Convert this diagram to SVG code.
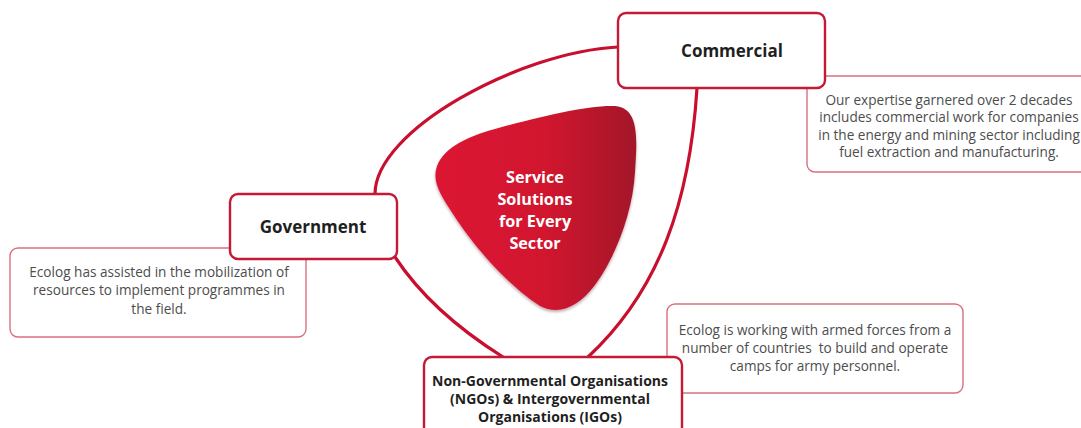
<svg xmlns="http://www.w3.org/2000/svg" width="1081" height="428" viewBox="0 0 1081 428">
  <defs>
    <linearGradient id="blobFill" x1="0" y1="0" x2="1" y2="0">
      <stop offset="0" stop-color="#dc1431"/>
      <stop offset="0.55" stop-color="#d1142f"/>
      <stop offset="1" stop-color="#a3172a"/>
    </linearGradient>
    <filter id="soft" x="-10%" y="-10%" width="120%" height="130%">
      <feDropShadow dx="0" dy="2" stdDeviation="1.5" flood-color="#5a0a14" flood-opacity="0.35"/>
    </filter>
    <style>
      .link { fill: none; stroke: #c8102e; stroke-width: 3.2; stroke-linecap: round; }
      .main { fill: #ffffff; stroke: #c41a36; stroke-width: 2.4; }
      .note { fill: #ffffff; stroke: #d9717f; stroke-width: 1.4; }
      .title { font-family: "Open Sans", "Liberation Sans", sans-serif; font-weight: 700; fill: #1f1f1f; text-anchor: middle; }
      .body { font-family: "Open Sans", "Liberation Sans", sans-serif; font-size: 13.6px; fill: #4d4d4d; text-anchor: middle; white-space: pre; }
      .hub { font-family: "Open Sans", "Liberation Sans", sans-serif; font-weight: 700; font-size: 16.2px; fill: #ffffff; text-anchor: middle; }
    </style>
  </defs>

  <rect width="1081" height="428" fill="#ffffff"/>

  <!-- loop of connectors joining the three sectors -->
  <g id="connectors">
    <path class="link" d="M618,47 C520,52 375,130 375,194"/>
    <path class="link" d="M697,88 C690,200 660,290 588,357"/>
    <path class="link" d="M395,257 C420,295 460,330 503,357"/>
  </g>

  <!-- central hub -->
  <g id="hub">
    <path d="M436,170 C440,150 465,137 495,129 C538,117 588,105 615,106 C640,108 637,140 635,172 C633,210 617,255 595,285 C579,306 560,316 540,306 C508,286 472,244 453,214 C442,197 433,184 436,170 Z" fill="url(#blobFill)" filter="url(#soft)"/>
    <text class="hub" x="535" y="183">Service</text>
    <text class="hub" x="535" y="205">Solutions</text>
    <text class="hub" x="535" y="227">for Every</text>
    <text class="hub" x="535" y="249">Sector</text>
  </g>

  <!-- Commercial -->
  <g id="commercial-note">
    <rect class="note" x="807" y="76" width="290" height="96" rx="8"/>
    <text class="body" x="949" y="105">Our expertise garnered over 2 decades</text>
    <text class="body" x="949" y="122">includes commercial work for companies</text>
    <text class="body" x="949" y="140">in the energy and mining sector including</text>
    <text class="body" x="949" y="157">fuel extraction and manufacturing.</text>
  </g>
  <g id="commercial">
    <rect class="main" x="618" y="13" width="207" height="75" rx="8"/>
    <text class="title" x="732" y="57" font-size="17">Commercial</text>
  </g>

  <!-- Government -->
  <g id="government-note">
    <rect class="note" x="10" y="248" width="296" height="89" rx="8"/>
    <text class="body" x="159" y="277">Ecolog has assisted in the mobilization of</text>
    <text class="body" x="159" y="295">resources to implement programmes in</text>
    <text class="body" x="159" y="314">the field.</text>
  </g>
  <g id="government">
    <rect class="main" x="230" y="194" width="167" height="65" rx="8"/>
    <text class="title" x="313" y="233" font-size="17">Government</text>
  </g>

  <!-- NGOs and IGOs -->
  <g id="ngo-note">
    <rect class="note" x="667" y="304" width="296" height="89" rx="8"/>
    <text class="body" x="815" y="335">Ecolog is working with armed forces from a</text>
    <text class="body" x="815" y="353" xml:space="preserve">number of countries  to build and operate</text>
    <text class="body" x="815" y="371">camps for army personnel.</text>
  </g>
  <g id="ngo">
    <rect class="main" x="424" y="357" width="258" height="85" rx="8"/>
    <text class="title" x="550" y="386" font-size="14">Non-Governmental Organisations</text>
    <text class="title" x="550" y="404" font-size="14">(NGOs) &amp; Intergovernmental</text>
    <text class="title" x="550" y="422" font-size="14">Organisations (IGOs)</text>
  </g>
</svg>
